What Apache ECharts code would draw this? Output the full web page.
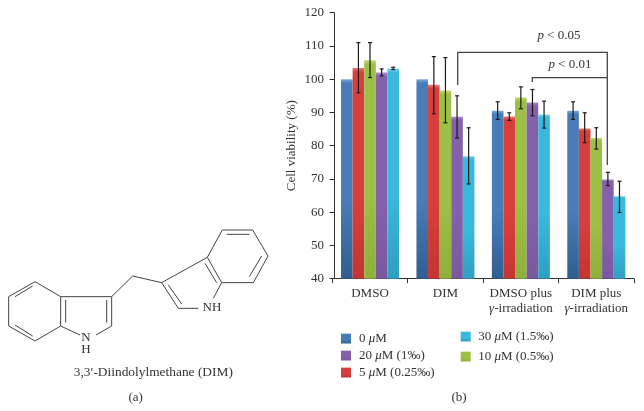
<!DOCTYPE html>
<html><head><meta charset="utf-8">
<style>html,body{margin:0;padding:0;background:#fff}#c{width:644px;height:411px}</style>
<script src="https://cdn.jsdelivr.net/npm/echarts@6/dist/echarts.min.js"></script>
</head><body><div id="c"></div>
<script>
const categories = ['DMSO', 'DIM', 'DMSO plus\nγ-irradiation', 'DIM plus\nγ-irradiation'];
const seriesNames = ['0 μM', '5 μM (0.25‰)', '10 μM (0.5‰)', '20 μM (1‰)', '30 μM (1.5‰)'];
const values0  = [100, 100, 90.5, 90.5];
const values5  = [103.4, 98.3, 88.8, 85.2];
const values10 = [105.7, 96.6, 94.5, 82.3];
const values20 = [102, 88.7, 93, 69.8];
const values30 = [103.2, 76.8, 89.4, 64.8];
const low0  = [null, null, 87.9, 87.9];
const high0 = [null, null, 93.2, 93.2];
const low5  = [95.9, 89.6, 87.6, 80.9];
const high5 = [111, 106.8, 89.9, 89.9];
const low10  = [100.5, 86.9, 91.1, 79];
const high10 = [111, 106.5, 97.7, 85.4];
const low20  = [101, 82.3, 89, 68];
const high20 = [103.1, 95, 96.9, 72];
const low30  = [102.9, 68.5, 85.3, 59.9];
const high30 = [103.6, 85.4, 93.4, 69.3];

const allValues = [values0, values5, values10, values20, values30];
const allLow = [low0, low5, low10, low20, low30];
const allHigh = [high0, high5, high10, high20, high30];
const palette = [
  ['#7fabd8', '#4a7db8', '#2e5f92'],
  ['#ec7a74', '#d83f3c', '#c43533'],
  ['#c0d976', '#9cbf45', '#8fb03c'],
  ['#a78cc8', '#8560ab', '#7a58a0'],
  ['#7ed4ea', '#39b9dc', '#2f9fc0']
];
const serif = '"Liberation Serif", serif';
const BAR_W = 11.6;
const grad = p => ({ type: 'linear', x: 0, y: 0, x2: 0, y2: 1, colorStops: [
  { offset: 0, color: p[0] }, { offset: 0.02, color: p[1] }, { offset: 0.6, color: p[1] }, { offset: 1, color: p[2] } ] });

const barSeries = seriesNames.map((name, i) => ({
  name, type: 'bar', data: allValues[i], barWidth: BAR_W, barGap: '0%',
  itemStyle: { color: grad(palette[i]) }, z: 2
}));
const errSeries = seriesNames.map((name, i) => ({
  type: 'custom', name: 'err' + i, z: 5, silent: true, clip: false,
  encode: { x: 0, y: [1, 2] },
  data: categories.map((c, k) => [k, allLow[i][k], allHigh[i][k]]).filter(d => d[1] !== null),
  renderItem(params, api) {
    const lo = api.coord([api.value(0), api.value(1)]);
    const hi = api.coord([api.value(0), api.value(2)]);
    const x = lo[0] + (i - 2) * BAR_W;
    const cap = 2;
    const s = { stroke: '#1a1a1a', lineWidth: 1.2, fill: null };
    return { type: 'group', children: [
      { type: 'line', shape: { x1: x, y1: lo[1], x2: x, y2: hi[1] }, style: s },
      { type: 'line', shape: { x1: x - cap, y1: lo[1], x2: x + cap, y2: lo[1] }, style: s },
      { type: 'line', shape: { x1: x - cap, y1: hi[1], x2: x + cap, y2: hi[1] }, style: s }
    ] };
  }
}));

const legendFmt = n => '{s|}' + n.replace('μ', '{i|μ}');
const legendBase = {
  orient: 'vertical', icon: 'rect', itemWidth: 10, itemHeight: 10, padding: 0,
  selectedMode: false, formatter: legendFmt,
};
const legendText = pad => ({ fontFamily: serif, fontSize: 13, color: '#333', rich: {
  i: { fontStyle: 'italic', fontFamily: serif, fontSize: 13, color: '#333' },
  s: { width: pad }
} });

// Chemical structure (part a): segments
const bonds = [
  [[105,245],[182,290],[182,378],[105,423],[26,378],[26,290],[105,245]],
  [[98,258],[45,290]], [[45,375],[98,408]], [[197,300],[197,368]],
  [[182,290],[335,290],[335,378],[288,405]], [[182,378],[240,405]],
  [[320,300],[320,368]],
  [[335,290],[398,228],[485,248]],
  [[485,248],[622,172],[665,248],[640,295]],
  [[485,248],[535,325],[595,325]],
  [[505,255],[545,312]], [[615,190],[650,248]],
  [[622,172],[667,90],[758,90],[804,168],[760,248],[665,248]],
  [[680,103],[748,103]], [[785,168],[748,230]]
];
const toPx = p => [p[0] / 3, 200 + p[1] / 3];
const txt = (x, y, text, size, extra) => ({
  type: 'text', x, y, silent: true,
  style: Object.assign({ text, fontFamily: serif, fontSize: size, fill: '#333', align: 'center', verticalAlign: 'middle',
    rich: { i: { fontStyle: 'italic', fontFamily: serif, fontSize: size, fill: '#333', color: '#333' } } }, extra || {})
});
const seg = (pts, w) => ({ type: 'polyline', silent: true, shape: { points: pts }, style: { stroke: '#444', lineWidth: w || 1.2, fill: null } });

const graphics = bonds.map(b => seg(b.map(toPx), 1))
  .concat([
    txt(212, 307.7, 'NH', 13), txt(86, 337.3, 'N', 13), txt(86, 350, 'H', 13),
    txt(153.3, 372.7, '3,3′-Diindolylmethane (DIM)', 13.4),
    txt(135.7, 397.3, '(a)', 13), txt(459, 397.3, '(b)', 13),
    seg([[457.7, 85], [457.7, 52.3], [607.3, 52.3], [607.3, 165]], 1.3),
    seg([[532.3, 82], [532.3, 77.7], [607.3, 77.7]], 1.3),
    txt(559, 36, '{i|p} < 0.05', 13), txt(570, 65, '{i|p} < 0.01', 13)
  ]);

const chart = echarts.init(document.getElementById('c'), null, { renderer: 'canvas' });
chart.setOption({
  animation: false, backgroundColor: '#fff',
  grid: { left: 332.3, top: 12.7, width: 301.7, height: 266 },
  xAxis: {
    type: 'category', data: categories,
    axisLine: { lineStyle: { color: '#333', width: 1 } },
    axisTick: { show: true, length: 4.5, alignWithLabel: false, lineStyle: { color: '#333' } },
    axisLabel: {
      fontFamily: serif, fontSize: 13, color: '#333', margin: 7, lineHeight: 15, interval: 0,
      formatter: v => v.replace('γ', '{i|γ}'),
      rich: { i: { fontStyle: 'italic', fontFamily: serif, fontSize: 13, color: '#333', lineHeight: 15 } }
    }
  },
  yAxis: {
    type: 'value', min: 40, max: 120, interval: 10, offset: -1.7,
    name: 'Cell viability (%)', nameLocation: 'middle', nameGap: 36,
    nameTextStyle: { fontFamily: serif, fontSize: 13, color: '#333' },
    splitLine: { show: false },
    axisLine: { show: true, lineStyle: { color: '#333', width: 1 } },
    axisTick: { show: true, length: 4.5, lineStyle: { color: '#333' } },
    axisLabel: { fontFamily: serif, fontSize: 13, color: '#333', margin: 10 }
  },
  legend: [
    Object.assign({}, legendBase, { left: 341, top: 332, itemGap: 4, textStyle: legendText(3),
      data: [seriesNames[0], seriesNames[3], seriesNames[1]] }),
    Object.assign({}, legendBase, { left: 460.7, top: 330, itemGap: 7, textStyle: legendText(2.5),
      data: [seriesNames[4], seriesNames[2]] })
  ],
  series: barSeries.concat(errSeries),
  graphic: { elements: graphics }
});
</script></body></html>
